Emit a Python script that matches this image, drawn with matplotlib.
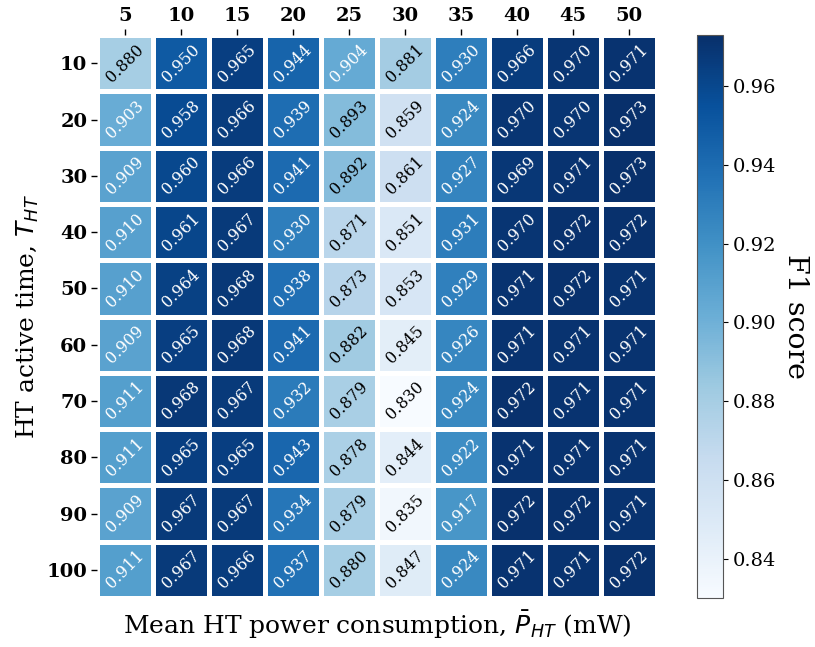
import numpy as np
import matplotlib
matplotlib.use("Agg")
import matplotlib.pyplot as plt
from matplotlib.colors import Normalize

plt.rcParams["font.family"] = "DejaVu Serif"

power_mw = [5, 10, 15, 20, 25, 30, 35, 40, 45, 50]
active_time = [10, 20, 30, 40, 50, 60, 70, 80, 90, 100]

f1_t10 = [0.880, 0.950, 0.965, 0.944, 0.904, 0.881, 0.930, 0.966, 0.970, 0.971]
f1_t20 = [0.903, 0.958, 0.966, 0.939, 0.893, 0.859, 0.924, 0.970, 0.970, 0.973]
f1_t30 = [0.909, 0.960, 0.966, 0.941, 0.892, 0.861, 0.927, 0.969, 0.971, 0.973]
f1_t40 = [0.910, 0.961, 0.967, 0.930, 0.871, 0.851, 0.931, 0.970, 0.972, 0.972]
f1_t50 = [0.910, 0.964, 0.968, 0.938, 0.873, 0.853, 0.929, 0.971, 0.972, 0.971]
f1_t60 = [0.909, 0.965, 0.968, 0.941, 0.882, 0.845, 0.926, 0.971, 0.971, 0.971]
f1_t70 = [0.911, 0.968, 0.967, 0.932, 0.879, 0.830, 0.924, 0.972, 0.971, 0.971]
f1_t80 = [0.911, 0.965, 0.965, 0.943, 0.878, 0.844, 0.922, 0.971, 0.971, 0.971]
f1_t90 = [0.909, 0.967, 0.967, 0.934, 0.879, 0.835, 0.917, 0.972, 0.972, 0.971]
f1_t100 = [0.911, 0.967, 0.966, 0.937, 0.880, 0.847, 0.924, 0.971, 0.971, 0.972]

scores = np.array([f1_t10, f1_t20, f1_t30, f1_t40, f1_t50,
                   f1_t60, f1_t70, f1_t80, f1_t90, f1_t100])

fig = plt.figure(figsize=(8.15, 6.47), dpi=100)
ax = fig.add_axes([0.119, 0.0757, 0.687, 0.870])
cax = fig.add_axes([0.855, 0.0757, 0.032, 0.870])

cmap = plt.get_cmap("Blues")
norm = Normalize(vmin=scores.min(), vmax=scores.max())
mesh = ax.pcolormesh(scores, cmap=cmap, norm=norm, edgecolors="white", linewidth=2.5)
ax.set_xlim(0, scores.shape[1])
ax.set_ylim(scores.shape[0], 0)
for s in ax.spines.values():
    s.set_visible(False)


def luminance(rgba):
    rgb = np.array(rgba[:3])
    rgb = np.where(rgb <= 0.03928, rgb / 12.92, ((rgb + 0.055) / 1.055) ** 2.4)
    return 0.2126 * rgb[0] + 0.7152 * rgb[1] + 0.0722 * rgb[2]


for i in range(scores.shape[0]):
    for j in range(scores.shape[1]):
        v = scores[i, j]
        col = "black" if luminance(cmap(norm(v))) > 0.408 else "white"
        ax.text(j + 0.5, i + 0.5, f"{v:.3f}", ha="center", va="center",
                rotation=45, fontsize=11.5, color=col)

ax.xaxis.tick_top()
ax.set_xticks(np.arange(len(power_mw)) + 0.5)
ax.set_xticklabels([str(p) for p in power_mw], fontsize=14, fontweight="bold")
ax.set_yticks(np.arange(len(active_time)) + 0.5)
ax.set_yticklabels([str(t) for t in active_time], fontsize=14, fontweight="bold")
ax.tick_params(length=4, width=1, pad=3)

ax.set_xlabel(r"Mean HT power consumption, $\bar{P}_{HT}$ (mW)", fontsize=18, labelpad=8)
ax.set_ylabel(r"HT active time, $T_{HT}$", fontsize=18, labelpad=4)

cb = fig.colorbar(mesh, cax=cax)
cb.set_ticks([0.84, 0.86, 0.88, 0.90, 0.92, 0.94, 0.96])
cb.ax.tick_params(labelsize=14)
cb.outline.set_edgecolor("#555555")
cb.set_label("F1 score", rotation=270, fontsize=20.5, labelpad=24)

fig.savefig("out.png", dpi=100)
